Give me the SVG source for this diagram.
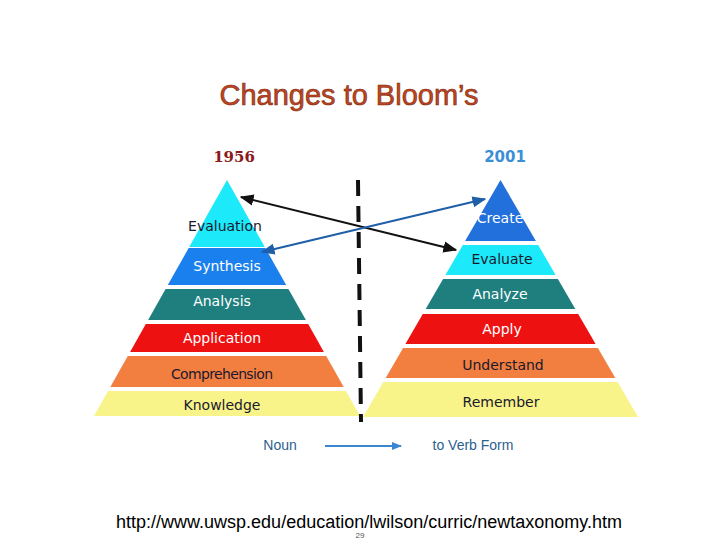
<svg xmlns="http://www.w3.org/2000/svg" width="720" height="540" viewBox="0 0 720 540">
<style>
.l{font-family:"DejaVu Sans",sans-serif;font-size:14px;text-anchor:middle}
.d{fill:#1a1a2e}.w{fill:#fff}
.cy{fill:#1CEAFA}.bl{fill:#1A80EE}.cr{fill:#2270DC}.te{fill:#1E7F7E}.re{fill:#EE1111}.or{fill:#F27E40}.ye{fill:#F9F48A}
</style>
<defs>
<marker id="ak" viewBox="0 0 10 10" refX="9" refY="5" markerWidth="7" markerHeight="7" orient="auto-start-reverse"><path d="M0,1 L10,5 L0,9 z" fill="#111"/></marker>
<marker id="ab" viewBox="0 0 10 10" refX="9" refY="5" markerWidth="7" markerHeight="7" orient="auto-start-reverse"><path d="M0,1 L10,5 L0,9 z" fill="#1f5fa8"/></marker>
<marker id="an" viewBox="0 0 10 10" refX="9" refY="5" markerWidth="5" markerHeight="5" orient="auto"><path d="M0,1 L10,5 L0,9 z" fill="#3a86d0"/></marker>
</defs>
<rect width="720" height="540" fill="#fff"/>
<text x="349" y="105" font-family="Liberation Sans,sans-serif" font-size="29" text-anchor="middle" fill="#C0441E" stroke="#7a2a10" stroke-width="0.6">Changes to Bloom’s</text>
<text x="234" y="162" font-family="DejaVu Serif,serif" font-weight="bold" font-size="15" text-anchor="middle" fill="#8B1A1A">1956</text>
<text x="505" y="162" font-family="DejaVu Sans,sans-serif" font-weight="bold" font-size="15" text-anchor="middle" fill="#3A8FD8">2001</text>
<g id="old">
<g id="evaluation"><polygon class="cy" points="227,180 264.8,247 189.2,247"/><text class="l d" x="225" y="231">Evaluation</text></g>
<g id="synthesis"><polygon class="bl" points="188.7,248 265.3,248 286.2,285 167.8,285"/><text class="l w" x="227" y="271">Synthesis</text></g>
<g id="analysis"><polygon class="te" points="165.6,289 288.4,289 305.9,320 148.1,320"/><text class="l w" x="222" y="306">Analysis</text></g>
<g id="application"><polygon class="re" points="145.8,324 308.2,324 323.9,352 130.1,352"/><text class="l w" x="222" y="343">Application</text></g>
<g id="comprehension"><polygon class="or" points="127.8,356 326.2,356 343.7,387 110.3,387"/><text class="l d" x="222" y="379" textLength="102">Comprehension</text></g>
<g id="knowledge"><polygon class="ye" points="108.1,391 345.9,391 360,416 94,416"/><text class="l d" x="222" y="410">Knowledge</text></g>
</g>
<g id="new">
<g id="create"><polygon class="cr" points="500.5,180 535.9,241 465.1,241"/><text class="l w" x="500" y="223">Create</text></g>
<g id="evaluate"><polygon class="cy" points="462.8,245 538.2,245 555.6,275 445.4,275"/><text class="l d" x="502" y="264">Evaluate</text></g>
<g id="analyze"><polygon class="te" points="443.1,279 557.9,279 575.3,309 425.7,309"/><text class="l w" x="500" y="299">Analyze</text></g>
<g id="apply"><polygon class="re" points="422.8,314 578.2,314 595.6,344 405.4,344"/><text class="l w" x="502" y="334">Apply</text></g>
<g id="understand"><polygon class="or" points="403.1,348 597.9,348 615.3,378 385.7,378"/><text class="l d" x="503" y="370">Understand</text></g>
<g id="remember"><polygon class="ye" points="383.3,382 617.7,382 638,417 363,417"/><text class="l d" x="501" y="407">Remember</text></g>
</g>
<g id="connectors">
<line x1="358" y1="180" x2="361" y2="422" stroke="#111" stroke-width="4" stroke-dasharray="16,10"/>
<line x1="241" y1="197" x2="456" y2="250" stroke="#111" stroke-width="2" marker-start="url(#ak)" marker-end="url(#ak)"/>
<line x1="262" y1="252" x2="485" y2="199" stroke="#1f5fa8" stroke-width="2" marker-start="url(#ab)" marker-end="url(#ab)"/>
<line x1="325" y1="446" x2="401" y2="446" stroke="#3a86d0" stroke-width="2" marker-end="url(#an)"/>
</g>
<text x="280" y="450" font-family="Liberation Sans,sans-serif" font-size="14" text-anchor="middle" fill="#2d5f8f">Noun</text>
<text x="473" y="450" font-family="Liberation Sans,sans-serif" font-size="14" text-anchor="middle" fill="#2d5f8f">to Verb Form</text>
<text x="369" y="528" font-family="Liberation Sans,sans-serif" font-size="18" text-anchor="middle" fill="#000">http://www.uwsp.edu/education/lwilson/curric/newtaxonomy.htm</text>
<text x="360" y="538" font-family="Liberation Sans,sans-serif" font-size="8" text-anchor="middle" fill="#555">29</text>
</svg>
